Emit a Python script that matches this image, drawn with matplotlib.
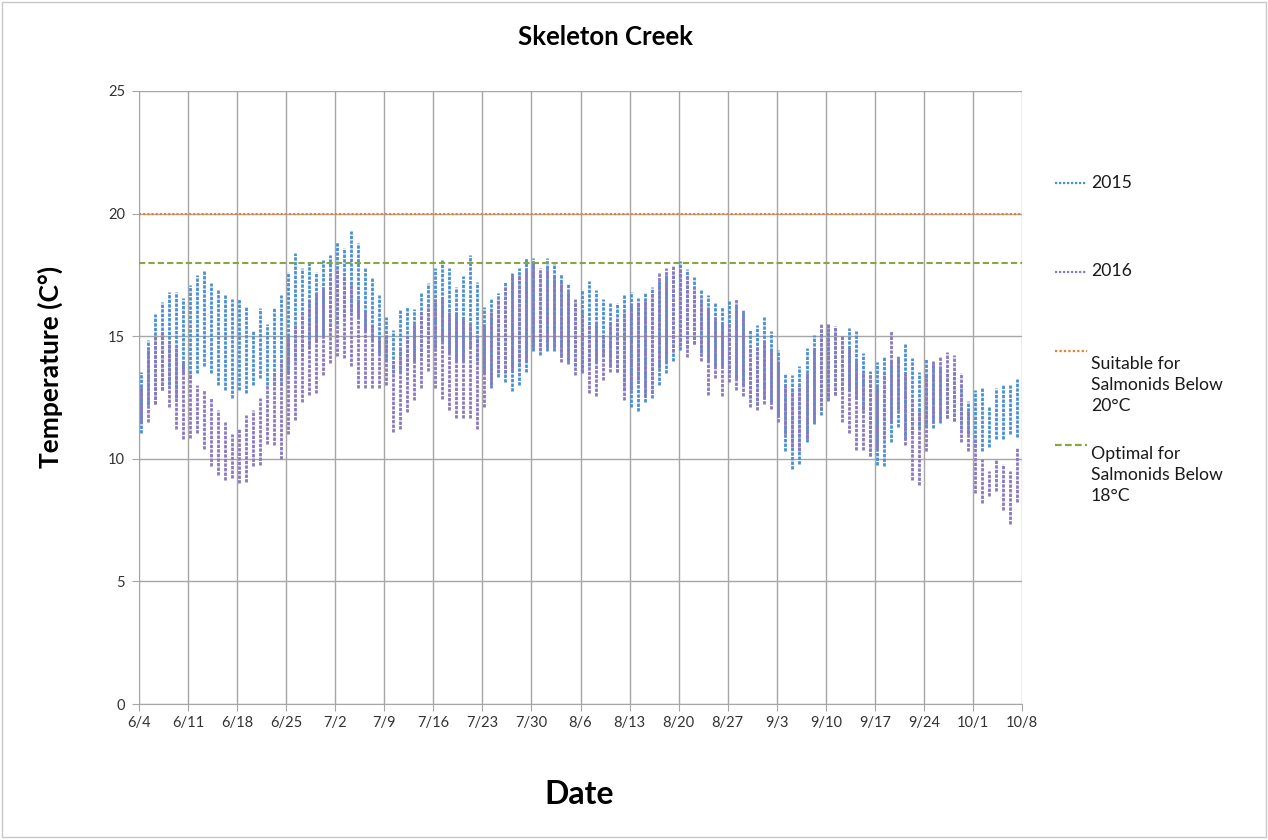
import numpy as np
import matplotlib
matplotlib.use("Agg")
import matplotlib.pyplot as plt
import matplotlib.patches as patches
from matplotlib.lines import Line2D

plt.rcParams['font.family'] = ['Lato', 'DejaVu Sans']

# daily low / high water temperature (C), one value per day from 6/4 to 10/7
hi_2015 = [13.55, 14.85, 15.9, 16.4, 16.8, 16.8, 16.55,
           17.1, 17.5, 17.7, 17.15, 16.9, 16.7, 16.5,
           16.5, 16.2, 15.25, 16.15, 15.5, 16.15, 16.7,
           17.6, 18.4, 17.8, 18.0, 17.6, 18.1, 18.3,
           18.85, 18.6, 19.3, 18.8, 17.8, 17.4, 16.7,
           15.8, 15.25, 16.1, 16.2, 16.1, 16.75, 17.15,
           17.8, 18.1, 17.8, 17.0, 17.45, 18.3, 17.2,
           16.2, 16.5, 16.75, 17.2, 17.6, 17.8, 18.2,
           18.2, 17.6, 18.2, 18.0, 17.55, 17.15, 16.45,
           16.9, 17.25, 16.9, 16.5, 16.4, 16.35, 16.7,
           16.8, 16.55, 16.8, 17.0, 17.3, 17.5, 17.6,
           18.05, 17.75, 17.4, 16.9, 16.7, 16.35, 16.2,
           16.45, 16.3, 16.0, 15.25, 15.45, 15.8, 15.2,
           14.45, 13.5, 13.4, 13.8, 14.5, 15.05, 15.3,
           15.5, 15.4, 15.05, 15.35, 15.2, 14.3, 13.6,
           13.95, 14.2, 14.0, 14.05, 14.7, 14.1, 13.55,
           14.05, 13.95, 13.8, 13.5, 13.6, 13.0, 12.35,
           12.8, 12.9, 12.15, 12.9, 13.0, 13.0, 13.25]
lo_2015 = [11.05, 12.2, 12.25, 12.8, 13.0, 12.5, 13.5,
           13.3, 13.5, 13.8, 13.5, 13.0, 12.8, 12.5,
           12.8, 12.7, 13.0, 13.3, 13.0, 13.0, 13.0,
           13.5, 14.0, 14.2, 14.5, 14.8, 15.0, 15.2,
           15.5, 15.8, 16.0, 15.8, 15.2, 14.8, 14.3,
           14.0, 13.5, 13.5, 13.8, 14.0, 14.2, 14.5,
           14.5, 14.8, 14.3, 14.0, 14.0, 14.5, 14.0,
           13.5, 13.0, 13.35, 13.15, 12.75, 13.0, 13.55,
           14.4, 14.25, 14.4, 14.4, 14.2, 14.0, 13.8,
           13.55, 13.8, 14.0, 14.2, 13.8, 13.55, 12.8,
           12.1, 11.95, 12.3, 12.5, 13.0, 13.5, 14.0,
           14.45, 14.5, 14.7, 14.3, 14.0, 13.8, 13.8,
           13.5, 13.3, 13.0, 12.5, 12.2, 12.5, 12.3,
           11.8, 10.3, 9.6, 9.8, 10.7, 11.4, 11.8,
           12.35, 12.6, 12.8, 12.8, 12.5, 12.0, 10.1,
           9.75, 9.7, 10.7, 11.3, 10.8, 11.0, 11.2,
           11.3, 11.25, 11.45, 11.65, 11.55, 11.2, 11.0,
           10.5, 10.3, 10.5, 10.8, 10.8, 11.0, 10.9]
hi_2016 = [13.0, 14.5, 15.0, 15.2, 14.8, 14.5, 14.0,
           13.5, 13.0, 12.8, 12.5, 12.0, 11.5, 11.0,
           11.2, 11.8, 12.0, 12.5, 13.0, 13.5, 14.0,
           15.0, 15.5, 16.0, 16.5, 16.8, 17.0, 17.5,
           17.8, 17.5, 17.2, 16.5, 16.0, 15.5, 15.0,
           15.0, 14.0, 14.5, 15.0, 15.5, 16.0, 16.3,
           16.5, 16.5, 16.0, 16.0, 15.8, 15.5, 15.0,
           15.5, 16.0, 16.5, 17.0, 17.5, 17.5, 17.8,
           18.0, 17.8, 17.8, 17.5, 17.2, 16.8, 16.5,
           16.0, 15.5, 15.5, 15.0, 15.5, 15.8, 16.0,
           16.3, 16.4, 16.5, 16.8, 17.6, 17.8, 17.9,
           17.8, 17.5, 17.0, 16.5, 16.2, 15.8, 15.5,
           15.5, 16.5, 16.05, 14.5, 14.5, 14.8, 14.5,
           14.0, 13.0, 12.8, 13.0, 13.5, 14.5, 15.5,
           15.5, 15.4, 15.05, 14.5, 14.0, 13.5, 13.5,
           13.0, 13.5, 15.2, 14.2, 13.5, 12.5, 12.0,
           13.5, 14.0, 14.2, 14.35, 14.25, 13.5, 12.0,
           10.8, 10.0, 9.5, 10.0, 9.8, 9.5, 10.5]
lo_2016 = [11.5, 11.5, 12.25, 12.8, 12.1, 11.2, 10.8,
           10.85, 11.05, 10.4, 9.7, 9.35, 9.15, 9.2,
           9.0, 9.05, 9.7, 9.75, 10.6, 10.55, 10.0,
           11.0, 11.6, 12.3, 12.6, 12.7, 13.4, 13.9,
           14.2, 14.1, 13.8, 12.9, 12.9, 12.9, 12.9,
           13.0, 11.1, 11.2, 11.9, 12.4, 12.9, 13.6,
           12.9, 12.45, 12.0, 11.65, 11.65, 11.65, 11.2,
           12.1, 12.9, 13.5, 13.5, 13.6, 13.8, 14.0,
           14.5, 14.4, 14.5, 14.5, 13.95, 13.85, 13.4,
           13.5, 12.7, 12.55, 13.2, 13.55, 13.55, 12.4,
           12.8, 13.2, 12.55, 12.7, 13.7, 13.95, 14.35,
           14.6, 14.15, 14.7, 14.0, 12.6, 13.3, 12.55,
           13.15, 12.8, 12.55, 12.1, 12.0, 12.25, 12.05,
           11.5, 11.0, 10.5, 10.3, 10.8, 11.5, 12.0,
           12.4, 12.6, 11.5, 11.05, 10.35, 10.35, 10.1,
           10.4, 10.8, 11.5, 12.0, 10.55, 9.15, 8.95,
           10.3, 11.5, 11.6, 11.65, 11.55, 10.7, 10.3,
           8.6, 8.2, 8.5, 8.7, 7.9, 7.35, 8.25]

date_labels = ["6/4", "6/11", "6/18", "6/25", "7/2", "7/9", "7/16", "7/23",
               "7/30", "8/6", "8/13", "8/20", "8/27", "9/3", "9/10", "9/17",
               "9/24", "10/1", "10/8"]
temp_ticks = [0, 5, 10, 15, 20, 25]
suitable_limit = 20
optimal_limit = 18

blue = "#4A8FD3"
purple = "#8B78BF"
orange = "#ED7D31"
green = "#86A546"
grid_gray = "#A6A6A6"

bar_style = (0, (1.2, 0.45))
dotted = (0, (1, 0.8))
dashed = (0, (3, 1.5))

W, H = 1268, 840


def fx(px):
	return px / W


def fy(py):
	return 1 - py / H


fig = plt.figure(figsize=(W / 100, H / 100), dpi=100)
fig.add_artist(patches.Rectangle((fx(2), fy(837)), fx(1266) - fx(2), fy(2) - fy(837),
                                 transform=fig.transFigure, fill=False,
                                 edgecolor="#C8C8C8", lw=1))

ax = fig.add_axes([fx(139), fy(704), fx(1022) - fx(139), fy(91) - fy(704)])

# readings sit a little past midnight on the date axis
days = np.arange(len(hi_2015)) + 0.25
ax.vlines(days, lo_2015, hi_2015, colors=blue, linewidth=2.0, linestyles=bar_style, zorder=3)
ax.vlines(days, lo_2016, hi_2016, colors=purple, linewidth=2.0, linestyles=bar_style, zorder=3)
ax.axhline(suitable_limit, color=orange, lw=1.5, ls=(0, (1, 1)), zorder=4)
ax.axhline(optimal_limit, color=green, lw=1.5, ls=dashed, zorder=4)

ax.set_xlim(0, 7 * (len(date_labels) - 1))
ax.set_ylim(temp_ticks[0], temp_ticks[-1])
ax.set_xticks(np.arange(len(date_labels)) * 7)
ax.set_xticklabels(date_labels)
ax.set_yticks(temp_ticks)
ax.grid(True, color=grid_gray, lw=1)
ax.set_axisbelow(True)
for s in ["top", "right"]:
	ax.spines[s].set_visible(False)
for s in ["left", "bottom"]:
	ax.spines[s].set_color(grid_gray)
ax.tick_params(length=5, color=grid_gray, labelsize=10.5, labelcolor="#333333")
ax.tick_params(axis="y", pad=5)
ax.tick_params(axis="x", pad=4)

fig.text(fx(605), fy(37), "Skeleton Creek", ha="center", va="center",
         fontsize=18.5, fontweight="bold")
fig.text(fx(50), fy(367), "Temperature (C°)", rotation=90, ha="center", va="center",
         fontsize=19, fontweight="bold")
fig.text(fx(579), fy(794), "Date", ha="center", va="center",
         fontsize=23, fontweight="bold")

# legend, placed by hand to follow the original spacing
legend_items = [
	("2015", blue, dotted, 183, 183),
	("2016", purple, dotted, 271.5, 271.5),
	("Suitable for\nSalmonids Below\n20°C", orange, (0, (1, 1)), 351, 385),
	("Optimal for\nSalmonids Below\n18°C", green, dashed, 445, 475),
]
for label, color, style, line_y, text_y in legend_items:
	fig.add_artist(Line2D([fx(1055), fx(1087)], [fy(line_y), fy(line_y)],
	                      transform=fig.transFigure, color=color, lw=1.6, ls=style))
	fig.text(fx(1091), fy(text_y), label, ha="left", va="center",
	         fontsize=12.7, linespacing=1.35, color="#1a1a1a")

fig.savefig("out.png", dpi=100, facecolor="white")
